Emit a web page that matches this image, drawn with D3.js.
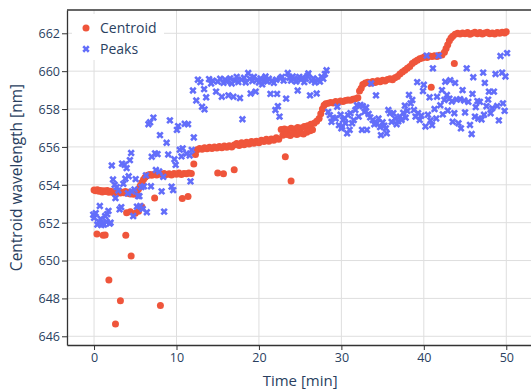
<!DOCTYPE html>
<html>
<head>
<meta charset="utf-8">
<script src="https://cdn.jsdelivr.net/npm/d3@7"></script>
<style>
  html, body { margin: 0; padding: 0; background: #fff; }
  svg { display: block; font-family: "Open Sans", sans-serif; }
</style>
</head>
<body>
<div id="chart"></div>
<script>
// ---- data ----
const xTicks = [0, 10, 20, 30, 40, 50];
const yTicks = [646, 648, 650, 652, 654, 656, 658, 660, 662];
const seriesNames = ['Centroid', 'Peaks'];

// centroid wavelength [time min, nm]
const centroid = [
  [0.0,653.72],[0.2,653.68],[0.4,653.74],[0.6,653.66],[0.8,653.7],[1.0,653.62],[1.2,653.68],[1.4,653.64],
  [1.6,653.7],[1.8,653.6],[2.0,653.66],[2.2,653.62],[2.4,653.58],[2.6,653.66],[2.8,653.6],[3.0,653.62],
  [3.2,653.56],[3.4,653.6],[3.6,653.58],[3.8,653.64],[4.0,653.55],[4.2,653.6],[4.4,653.52],[4.6,653.58],
  [4.8,653.5],[5.0,653.56],[5.2,653.62],[5.4,653.78],[5.6,653.95],[5.8,654.12],[6.0,654.28],[6.2,654.4],
  [6.4,654.48],[6.6,654.52],[6.8,654.55],[7.0,654.5],[7.3,654.56],[7.6,654.52],[7.9,654.58],[8.2,654.54],
  [8.5,654.6],[8.8,654.55],[9.1,654.58],[9.4,654.52],[9.7,654.6],[10.0,654.56],[10.3,654.62],[10.6,654.55],
  [10.9,654.6],[11.2,654.58],[11.5,654.62],[11.8,654.6],[12.1,655.1],[12.3,655.6],[12.5,655.85],[12.8,655.92],
  [13.1,655.88],[13.4,655.95],[13.7,655.9],[14.0,655.98],[14.3,655.92],[14.6,656.0],[14.9,655.94],[15.2,656.02],
  [15.5,655.96],[15.8,656.05],[16.1,655.98],[16.4,656.06],[16.7,656.0],[17.0,656.1],[17.3,656.18],[17.6,656.08],
  [17.9,656.22],[18.2,656.12],[18.5,656.25],[18.8,656.15],[19.1,656.28],[19.4,656.2],[19.7,656.3],[20.0,656.22],
  [20.3,656.35],[20.6,656.28],[20.9,656.4],[21.2,656.3],[21.5,656.42],[21.8,656.35],[22.1,656.48],[22.4,656.4],
  [22.7,656.92],[23.1,656.95],[23.5,656.9],[23.9,656.98],[24.3,656.95],[24.7,657.02],[25.1,657.0],[25.5,657.08],
  [25.9,657.12],[26.3,657.2],[26.7,657.25],[27.0,657.35],
  [22.9,656.62],[23.4,656.66],[23.8,656.6],[24.2,656.7],[24.6,656.65],[25.0,656.72],[25.4,656.68],[25.8,656.78],
  [26.2,656.85],[26.5,656.9],
  [27.3,657.5],[27.5,657.75],[27.7,658.0],[27.9,658.2],[28.1,658.28],[28.4,658.3],[28.7,658.35],[29.0,658.32],
  [29.3,658.4],[29.6,658.36],[29.9,658.42],[30.2,658.4],[30.5,658.45],[30.8,658.48],[31.1,658.46],[31.4,658.52],
  [31.7,658.55],[32.0,658.6],[32.2,658.95],[32.4,659.1],[32.6,659.3],[32.9,659.38],[33.2,659.42],[33.5,659.36],
  [33.8,659.45],[34.1,659.4],[34.4,659.5],[34.7,659.44],[35.0,659.52],[35.3,659.48],[35.6,659.56],[35.9,659.6],
  [36.2,659.55],[36.5,659.65],[36.8,659.72],[37.1,659.85],[37.4,659.95],[37.7,660.05],[38.0,660.15],[38.3,660.25],
  [38.6,660.4],[38.9,660.5],[39.2,660.58],[39.5,660.65],[39.8,660.7],[40.1,660.76],[40.4,660.72],[40.7,660.8],
  [41.0,660.78],[41.3,660.82],[41.6,660.78],[41.9,660.84],[42.2,660.85],[42.5,661.0],[42.7,661.2],[42.9,661.4],
  [43.1,661.6],[43.3,661.75],[43.5,661.85],[43.8,661.95],[44.1,662.0],[44.4,661.96],[44.7,662.02],[45.0,661.98],
  [45.3,662.04],[45.6,661.95],[45.9,662.0],[46.2,662.06],[46.5,661.98],[46.8,662.04],[47.1,661.96],[47.4,662.02],
  [47.7,662.06],[48.0,661.98],[48.3,662.02],[48.6,661.96],[48.9,662.04],[49.2,662.0],[49.5,662.06],[49.8,662.02],
  [50.0,662.08],
  // outliers
  [0.35,651.4],[1.1,651.33],[1.35,651.35],[1.8,648.97],[2.6,646.65],[3.2,647.88],[3.85,651.33],[4.5,650.24],
  [3.95,652.52],[4.4,652.58],[5.0,652.5],[5.4,652.6],[5.8,652.84],[7.35,653.3],[8.05,647.62],[10.7,653.28],
  [11.4,653.38],[15.0,654.62],[15.7,654.58],[17.0,654.8],[23.2,655.48],[23.9,654.2],[40.9,659.15],[43.7,660.4]
];

// peak wavelength [time min, nm]
const peaks = [
  [-0.1,652.42],[0.0,652.25],[0.2,652.5],[0.4,651.9],[0.55,652.05],[0.7,652.88],[0.8,652.2],[0.9,651.88],
  [1.05,651.95],[1.2,651.9],[1.35,652.35],[1.5,652.05],[1.6,652.45],[1.75,652.62],[1.9,651.95],[2.0,652.0],
  [2.15,655.02],[2.3,654.28],[2.5,654.0],[2.6,653.3],[2.75,653.88],[2.95,653.7],[3.1,652.7],[3.3,652.82],
  [3.4,655.12],[3.55,654.05],[3.7,655.05],[3.8,654.32],[3.95,654.88],[4.1,653.55],[4.2,654.45],[4.35,655.3],
  [4.5,655.68],[4.6,653.65],[4.75,652.35],[4.9,653.75],[5.05,654.3],[5.2,652.85],[5.35,653.4],[5.5,653.4],
  [5.6,652.88],[5.75,653.88],[5.9,652.72],[6.05,653.92],[6.3,654.5],[6.4,652.55],[6.6,657.2],[6.8,657.3],
  [6.9,653.92],[7.0,655.48],[7.2,657.55],[7.4,655.66],[7.5,654.78],[7.7,655.62],[7.9,654.7],[8.0,656.62],
  [8.2,653.65],[8.4,654.42],[8.5,652.58],[8.8,656.22],[9.0,655.6],[9.2,657.4],[9.4,653.9],[9.6,653.72],
  [9.75,655.35],[9.9,655.05],[10.05,656.9],[10.2,657.1],[10.4,655.85],[10.6,655.5],[10.75,655.92],[11.0,657.22],
  [11.2,655.65],[11.4,657.2],[11.6,655.55],[11.7,654.18],[11.85,655.84],[12.0,658.98],[12.1,656.5],[12.4,658.45],
  [12.6,659.55],[12.9,659.42],[13.1,658.12],[13.35,659.05],[13.4,657.98],[13.6,658.62],[13.95,659.58],[14.2,659.35],
  [14.4,659.5],[14.8,658.92],[15.0,659.45],[15.3,659.6],[15.5,658.65],[15.7,659.38],[15.9,659.55],[16.1,659.45],
  [16.3,658.72],[16.5,659.62],[16.7,659.35],[16.9,658.65],[17.1,659.5],[17.3,659.7],[17.5,659.42],[17.7,658.58],
  [17.9,659.55],[18.0,657.46],[18.2,659.65],[18.4,659.4],[18.7,659.9],[18.9,659.6],[19.0,658.82],[19.2,659.48],
  [19.4,659.7],[19.6,658.92],[19.8,659.55],[20.0,659.4],[20.2,659.62],[20.4,659.3],[20.6,659.5],[20.8,659.72],
  [21.0,659.45],[21.2,659.6],[21.4,658.8],[21.6,659.5],[21.8,659.38],[22.0,657.95],[22.1,659.55],[22.2,658.8],
  [22.3,658.15],[22.5,657.6],[22.6,659.62],[22.8,659.7],[23.0,659.5],[23.3,658.55],[23.5,659.9],[23.7,659.65],
  [23.9,659.5],[24.1,659.72],[24.3,659.6],[24.5,659.45],[24.7,658.98],[24.9,659.7],[25.1,659.55],[25.3,659.65],
  [25.5,659.42],[25.7,659.6],[25.9,659.75],[26.0,659.88],[26.2,658.72],[26.4,659.5],[26.6,659.62],[26.8,659.4],
  [27.0,658.82],[27.2,659.55],[27.4,659.45],[27.6,659.7],[27.8,659.6],[28.0,659.85],[28.2,660.05],
  [28.4,657.85],[28.6,657.68],[28.8,657.32],[29.0,657.55],[29.3,657.5],[29.5,658.12],[29.7,657.15],[29.9,657.7],
  [30.0,656.98],[30.1,657.08],[30.2,657.42],[30.4,657.52],[30.5,657.25],[30.7,656.72],[30.8,657.68],[31.0,656.9],
  [31.1,657.78],[31.3,657.25],[31.5,657.42],[31.7,657.95],[31.9,658.2],[32.1,657.6],[32.3,658.22],[32.5,656.9],
  [32.6,658.15],[32.8,657.85],[33.0,658.08],[33.1,656.9],[33.3,657.74],[33.5,657.56],[33.6,659.35],[33.8,657.42],
  [34.0,657.2],[34.2,658.72],[34.3,657.25],[34.5,657.5],[34.7,657.05],[34.8,656.62],[35.0,657.3],[35.2,657.12],
  [35.4,656.98],[35.5,656.72],[35.7,657.95],[35.9,657.78],[36.1,657.32],[36.3,657.78],[36.5,657.5],[36.7,657.2],
  [36.9,657.35],[37.1,657.6],[37.3,657.42],[37.5,657.8],[37.7,658.18],[37.8,657.55],[38.0,657.9],[38.2,658.75],
  [38.4,658.3],[38.6,658.48],[38.8,657.95],[39.0,657.6],[39.2,659.42],[39.3,657.78],[39.5,657.42],[39.7,657.65],
  [39.9,658.95],[40.0,659.28],[40.2,657.08],[40.35,660.82],[40.5,657.7],[40.7,658.62],[40.8,657.4],[41.0,657.15],
  [41.1,660.15],[41.3,658.0],[41.5,657.5],[41.6,658.65],[41.8,660.82],[42.0,658.2],[42.2,659.0],[42.3,657.72],
  [42.5,658.48],[42.6,659.44],[42.8,658.74],[42.9,657.92],[43.1,658.55],[43.2,659.52],[43.4,658.4],[43.5,657.33],
  [43.7,657.78],[43.8,659.38],[44.0,658.5],[44.2,657.25],[44.4,658.52],[44.5,656.98],[44.7,659.0],[44.9,658.45],
  [45.0,657.82],[45.2,660.15],[45.4,658.38],[45.6,657.16],[45.8,656.68],[45.9,658.8],[46.0,659.68],[46.2,657.6],
  [46.3,658.1],[46.5,658.42],[46.6,657.5],[46.8,658.38],[47.0,657.45],[47.2,659.92],[47.3,657.7],[47.4,659.38],
  [47.6,658.15],[47.8,658.5],[47.9,658.92],[48.1,657.78],[48.3,658.05],[48.5,658.92],[48.7,659.85],[48.9,658.16],
  [49.1,657.4],[49.3,660.8],[49.5,659.92],[49.6,658.3],[49.8,657.9],[49.9,659.72],[50.1,660.95]
];

const colors = { Centroid: '#EF553B', Peaks: '#636EFA' };

// ---- layout ----
const width = 531, height = 391;
const margin = { top: 10, right: 0, bottom: 46, left: 67 };
const textColor = '#2a3f5f';
const lineColor = '#333';
const gridColor = '#dedede';

const svg = d3.select('#chart').append('svg')
  .attr('width', width)
  .attr('height', height);

const x = d3.scaleLinear().domain([-3.28, 53.0]).range([margin.left, width - margin.right]);
const y = d3.scaleLinear().domain([645.54, 663.23]).range([height - margin.bottom, margin.top]);

// grid
svg.append('g').selectAll('line').data(xTicks).enter().append('line')
  .attr('x1', d => x(d)).attr('x2', d => x(d))
  .attr('y1', margin.top).attr('y2', height - margin.bottom)
  .attr('stroke', gridColor).attr('stroke-width', 1);
svg.append('g').selectAll('line').data(yTicks).enter().append('line')
  .attr('x1', margin.left).attr('x2', width - margin.right)
  .attr('y1', d => y(d)).attr('y2', d => y(d))
  .attr('stroke', gridColor).attr('stroke-width', 1);

// markers
const plot = svg.append('g');
plot.selectAll('.c').data(centroid).enter().append('circle')
  .attr('cx', d => x(d[0]))
  .attr('cy', d => y(d[1]))
  .attr('r', 3.5)
  .attr('fill', colors.Centroid);

// plotly-style thick "x" marker
const xSym = d3.symbol().type(d3.symbolCross).size(34);
plot.selectAll('.p').data(peaks).enter().append('path')
  .attr('d', xSym)
  .attr('transform', d => `translate(${x(d[0])},${y(d[1])}) rotate(45)`)
  .attr('fill', colors.Peaks);

// axes
const xAxis = svg.append('g')
  .attr('transform', `translate(0,${height - margin.bottom})`)
  .call(d3.axisBottom(x).tickValues(xTicks).tickSize(5).tickSizeOuter(0).tickPadding(3));
const yAxis = svg.append('g')
  .attr('transform', `translate(${margin.left},0)`)
  .call(d3.axisLeft(y).tickValues(yTicks).tickSize(5).tickSizeOuter(0).tickPadding(2));

[xAxis, yAxis].forEach(a => {
  a.select('.domain').attr('stroke', lineColor).attr('stroke-width', 1.3);
  a.selectAll('.tick line').attr('stroke', lineColor);
  a.selectAll('.tick text')
    .attr('fill', textColor)
    .style('font-size', '12.5px')
    .style('font-family', '"Open Sans", sans-serif');
});
yAxis.selectAll('.tick text').attr('dy', '0.35em');

// top mirror line
svg.append('line')
  .attr('x1', margin.left).attr('x2', width)
  .attr('y1', margin.top).attr('y2', margin.top)
  .attr('stroke', lineColor).attr('stroke-width', 1.3);

// axis titles
svg.append('text')
  .attr('x', x(25)).attr('y', 381)
  .attr('dy', '0.35em')
  .attr('text-anchor', 'middle')
  .attr('fill', textColor)
  .style('font-size', '15px')
  .text('Time [min]');
svg.append('text')
  .attr('transform', `translate(17,${(margin.top + height - margin.bottom) / 2}) rotate(-90)`)
  .attr('dy', '0.35em')
  .attr('text-anchor', 'middle')
  .attr('fill', textColor)
  .style('font-size', '15.5px')
  .text('Centroid wavelength [nm]');

// legend
const legend = svg.append('g');
legend.append('rect')
  .attr('x', 72).attr('y', 14).attr('width', 92).attr('height', 46)
  .attr('fill', '#fff');
seriesNames.forEach((name, i) => {
  const cy = 28 + i * 21;
  if (name === 'Centroid') {
    legend.append('circle').attr('cx', 86).attr('cy', cy).attr('r', 3.5).attr('fill', colors[name]);
  } else {
    legend.append('path').attr('d', xSym)
      .attr('transform', `translate(86,${cy}) rotate(45)`)
      .attr('fill', colors[name]);
  }
  legend.append('text')
    .attr('x', 100).attr('y', cy).attr('dy', '0.35em')
    .attr('fill', textColor)
    .style('font-size', '14px')
    .text(name);
});
</script>
</body>
</html>
